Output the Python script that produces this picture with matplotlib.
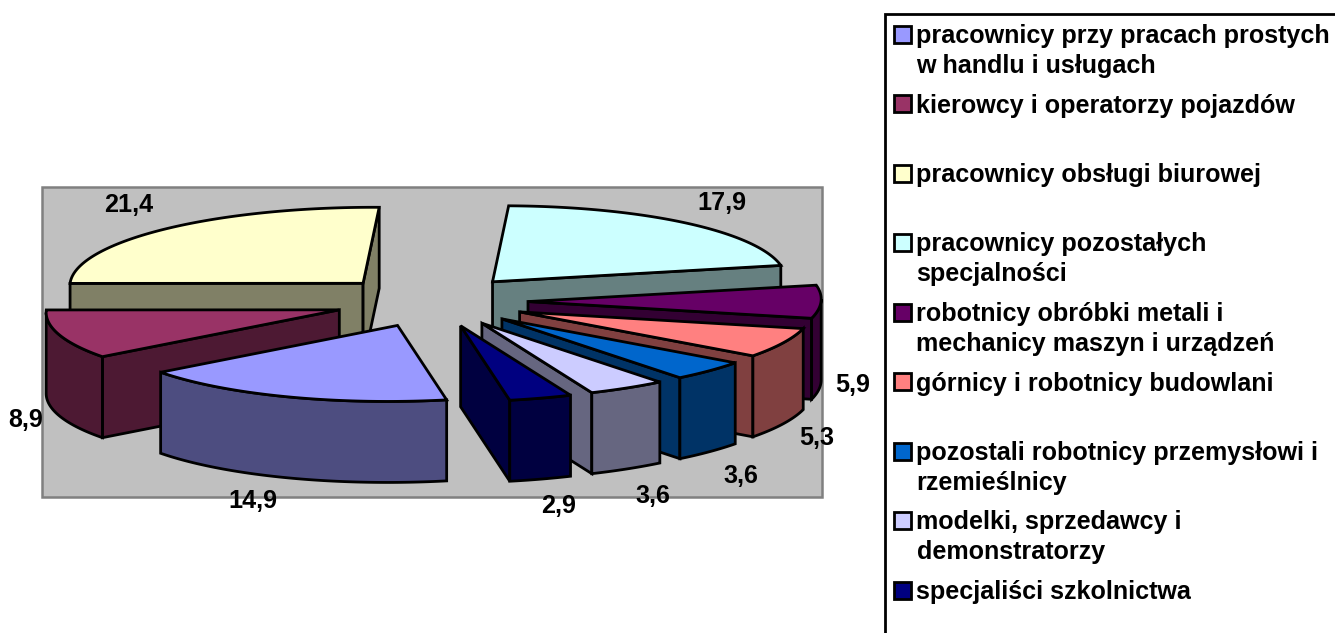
import numpy as np
import matplotlib
matplotlib.use("Agg")
import matplotlib.pyplot as plt
from matplotlib.patches import Polygon, Rectangle

categories = [
    ["pracownicy przy pracach prostych", "w handlu i usługach"],
    ["kierowcy i operatorzy pojazdów"],
    ["pracownicy obsługi biurowej"],
    ["pracownicy pozostałych", "specjalności"],
    ["robotnicy obróbki metali i", "mechanicy maszyn i urządzeń"],
    ["górnicy i robotnicy budowlani"],
    ["pozostali robotnicy przemysłowi i", "rzemieślnicy"],
    ["modelki, sprzedawcy i", "demonstratorzy"],
    ["specjaliści szkolnictwa"],
]
values = [14.9, 8.9, 21.4, 17.9, 5.9, 5.3, 3.6, 3.6, 2.9]
value_labels = ["14,9", "8,9", "21,4", "17,9", "5,9", "5,3", "3,6", "3,6", "2,9"]
top_colors = ["#9999FF", "#993366", "#FFFFCC", "#CCFFFF", "#660066",
              "#FF8080", "#0066CC", "#CCCCFF", "#000080"]
side_colors = ["#4D4D80", "#4D1933", "#808066", "#668080", "#330033",
               "#804040", "#003366", "#666680", "#000040"]
label_xy = [(253, 508), (26, 427), (129, 212), (722, 210), (853, 392),
            (817, 445), (741, 483), (653, 503), (559, 513)]

# projection style
CX, CY = 431.0, 301.5
RX, RY = 293.0, 76.0
SHEAR = 10.0
EX, EY = 97.0, 25.5
DEPTH = 81.0
START = 168.4
LW = 2.0

plt.rcParams["font.family"] = ["Liberation Sans", "DejaVu Sans"]
fig = plt.figure(figsize=(13.35, 6.33), dpi=100)
ax = fig.add_axes([0, 0, 1, 1])
ax.set_xlim(0, 1335)
ax.set_ylim(633, 0)
ax.axis("off")

ax.add_patch(Rectangle((42, 187), 780, 310, fc="#C0C0C0", ec="#808080", lw=1.8, zorder=1))


def rim(theta, tip):
    t = np.radians(theta)
    return np.column_stack([tip[0] + RX * np.sin(t) + SHEAR * np.cos(t),
                            tip[1] - RY * np.cos(t)])


spans = np.array(values) / sum(values) * 360
starts = START + np.concatenate([[0], np.cumsum(spans)[:-1]])
mids = starts + spans / 2
order = np.argsort(-np.abs(((mids) % 360) - 180))
down = np.array([0, DEPTH])
z = 2


def face(pts, color):
    global z
    ax.add_patch(Polygon(pts, closed=True, fc=color, ec="black", lw=LW,
                         joinstyle="miter", zorder=z))
    z += 1


for i in order:
    a0, a1, m = starts[i], starts[i] + spans[i], np.radians(mids[i])
    tip = np.array([CX + EX * np.sin(m), CY - EY * np.cos(m)])
    theta = np.linspace(a0, a1, 80)
    arc = rim(theta, tip)
    centre = arc.mean(axis=0)
    for end in (arc[0], arc[-1]):
        e = end - tip
        c = centre - tip
        cross_down = e[0] * down[1] - e[1] * down[0]
        cross_top = e[0] * c[1] - e[1] * c[0]
        if cross_down * cross_top < 0:
            face([tip, end, end + down, tip + down], side_colors[i])
    t = np.radians(theta)
    front = RX * np.cos(t) - SHEAR * np.sin(t) <= 0
    if front.sum() > 1:
        seg = arc[front]
        face(np.vstack([seg, (seg + down)[::-1]]), side_colors[i])
    face(np.vstack([[tip], arc]), top_colors[i])

for lab, (x, y) in zip(value_labels, label_xy):
    ax.text(x, y, lab, ha="center", va="baseline", fontsize=18.1, fontweight="bold",
            color="black", zorder=100)

# legend
ax.add_patch(Rectangle((885, 14), 600, 800, fc="white", ec="black", lw=2.0, zorder=50))
for k, (lines, col) in enumerate(zip(categories, top_colors)):
    yc = 34 + 69.5 * k
    ax.add_patch(Rectangle((893.5, yc - 8.5), 17, 17, fc=col, ec="black", lw=2.0, zorder=51))
    for j, ln in enumerate(lines):
        ax.text(916.5, yc + 9 + 30 * j, ln, ha="left", va="baseline", fontsize=18.1,
                fontweight="bold", color="black", zorder=52)

fig.savefig("out.png", dpi=100, facecolor="white")
